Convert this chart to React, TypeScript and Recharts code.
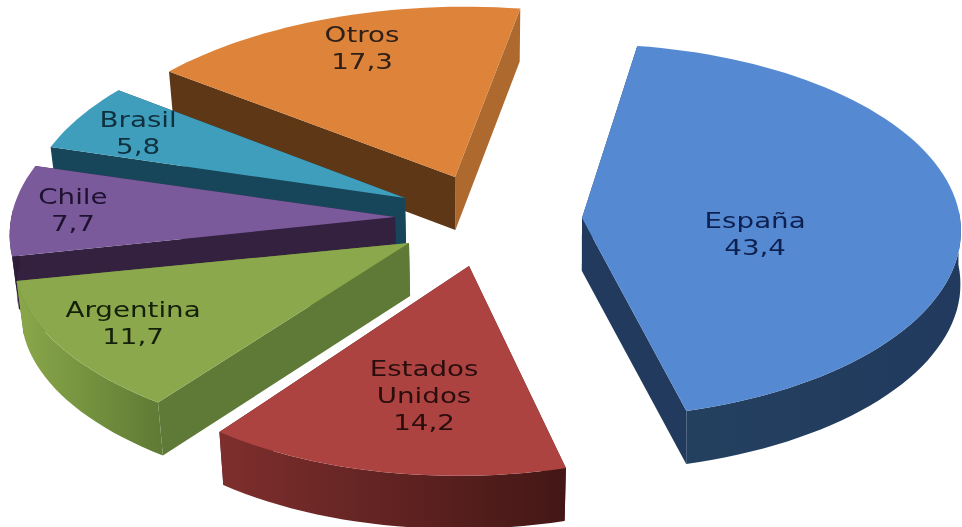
import React from 'react';
import { PieChart, Pie } from 'recharts';

const countries = ['Otros', 'Brasil', 'Chile', 'Argentina', 'Estados Unidos', 'España'];
const shares = [17.3, 5.8, 7.7, 11.7, 14.2, 43.4];

const chartData = countries.map((name, i) => ({ name, value: shares[i] }));

// look of each slice, same order as the countries
const sliceLooks = [
  { dx: 55, dy: -43, sx: 1.02, sy: 0.98, skew: -0.06, persp: 0.094, lean: 0.985, top: '#DE833A', wallA: '#AE6A2E', wallB: '#5E3716', rim: ['#AE6A2E', '#AE6A2E'], text: '#2E2018', lx: -0.246, ly: -0.71 },
  { dx: 5, dy: -22, sx: 1, sy: 1, skew: 0, persp: 0.094, lean: 0.985, top: '#3F9EBB', wallA: '#17465A', wallB: '#17465A', rim: ['#17465A', '#17465A'], text: '#10303F', lx: -0.706, ly: -0.374 },
  { dx: -5, dy: -3, sx: 1.015, sy: 1, skew: 0, persp: 0.094, lean: 0.985, top: '#7A5A9B', wallA: '#33213F', wallB: '#33213F', rim: ['#33213F', '#2A1B35'], text: '#1E1230', lx: -0.852, ly: -0.068 },
  { dx: 9, dy: 23, sx: 1.04, sy: 0.96, skew: 0, persp: 0.094, lean: 0.985, top: '#8BA94C', wallA: '#5F7A36', wallB: '#5F7A36', rim: ['#8AA84A', '#5E7A34'], text: '#14200A', lx: -0.73, ly: 0.389 },
  { dx: 69, dy: 46, sx: 1, sy: 1, skew: -0.05, persp: 0.094, lean: 0.985, top: '#AD4341', wallA: '#5C2120', wallB: '#5C2120', rim: ['#7E2F2D', '#431716'], text: '#2A0D0D', lx: -0.119, ly: 0.579 },
  { dx: 182, dy: -2, sx: 1, sy: 0.98, skew: 0, persp: 0.07, lean: 0.999, top: '#558AD3', wallA: '#213A5E', wallB: '#213A5E', rim: ['#24405F', '#213A5E'], text: '#0E2050', lx: 0.458, ly: 0.053 },
];

const RAD = Math.PI / 180;
const TILT = 0.503; // ry / rx
const DEPTH = 53;
const VANISH_X = 480;
const LINE_GAP = 27;
const TEXT_STRETCH = 1.32;

type Pt = [number, number];
type Look = (typeof sliceLooks)[number];

function project(look: Look, ax: number, ay: number, radius: number, deg: number): Pt {
  const u = Math.cos(deg * RAD);
  const v = Math.sin(deg * RAD);
  const w = 1 + look.persp * v;
  const py = -(radius * TILT * look.sy * v) / w;
  return [ax + (radius * look.sx * u) / w + look.skew * py, ay + py];
}

const toPath = (pts: Pt[]) => 'M' + pts.map((p) => p[0].toFixed(1) + ',' + p[1].toFixed(1)).join('L') + 'Z';

const Slice3D = (props: any) => {
  const { cx, cy, outerRadius, startAngle, endAngle, index } = props;
  const look = sliceLooks[index];
  const ax = cx + look.dx;
  const ay = cy + look.dy;
  const drop = ([x, y]: Pt): Pt => [VANISH_X + (x - VANISH_X) * look.lean, y + DEPTH];
  const arc: Pt[] = [];
  const front: Pt[] = []; // only the front of the rim can be seen
  const steps = Math.max(4, Math.ceil(Math.abs(endAngle - startAngle) / 2));
  for (let i = 0; i <= steps; i++) {
    const deg = startAngle + ((endAngle - startAngle) * i) / steps;
    const pt = project(look, ax, ay, outerRadius, deg);
    arc.push(pt);
    if (Math.sin(deg * RAD) < 0.05) front.push(pt);
  }
  const apex: Pt = [ax, ay];
  const first = arc[0];
  const last = arc[arc.length - 1];
  const rimId = 'rim' + index;
  return (
    <g>
      <defs>
        <linearGradient id={rimId} x1="0" y1="0" x2="1" y2="0">
          <stop offset="0%" stopColor={look.rim[0]} />
          <stop offset="100%" stopColor={look.rim[1]} />
        </linearGradient>
      </defs>
      <path d={toPath([apex, first, drop(first), drop(apex)])} fill={look.wallA} />
      <path d={toPath([apex, last, drop(last), drop(apex)])} fill={look.wallB} />
      {front.length > 1 && <path d={toPath([...front, ...front.map(drop).reverse()])} fill={`url(#${rimId})`} />}
      <path d={toPath([apex, ...arc])} fill={look.top} />
    </g>
  );
};

const SliceLabel = (props: any) => {
  const { cx, cy, outerRadius, index, name, value } = props;
  const look = sliceLooks[index];
  const x = cx + look.dx + look.lx * outerRadius;
  const y = cy + look.dy + look.ly * outerRadius * TILT;
  const lines = [...String(name).split(' '), String(value).replace('.', ',')];
  return (
    <text
      transform={`translate(${x},${y}) scale(${TEXT_STRETCH},1)`}
      textAnchor="middle"
      fill={look.text}
      fontSize={21}
      fontFamily="DejaVu Sans"
    >
      {lines.map((line, i) => (
        <tspan key={line} x={0} y={i * LINE_GAP}>
          {line}
        </tspan>
      ))}
    </text>
  );
};

export default function App() {
  return (
    <div style={{ position: 'absolute', left: 0, top: 0, background: '#fff', filter: 'blur(0.5px)' }}>
      <PieChart width={962} height={527} margin={{ top: 0, right: 0, bottom: 0, left: 0 }}>
        <Pie
          data={chartData}
          dataKey="value"
          nameKey="name"
          cx={400}
          cy={220}
          outerRadius={378}
          innerRadius={0}
          startAngle={81}
          endAngle={441}
          stroke="none"
          labelLine={false}
          label={SliceLabel}
          shape={Slice3D}
          isAnimationActive={false}
        />
      </PieChart>
    </div>
  );
}
